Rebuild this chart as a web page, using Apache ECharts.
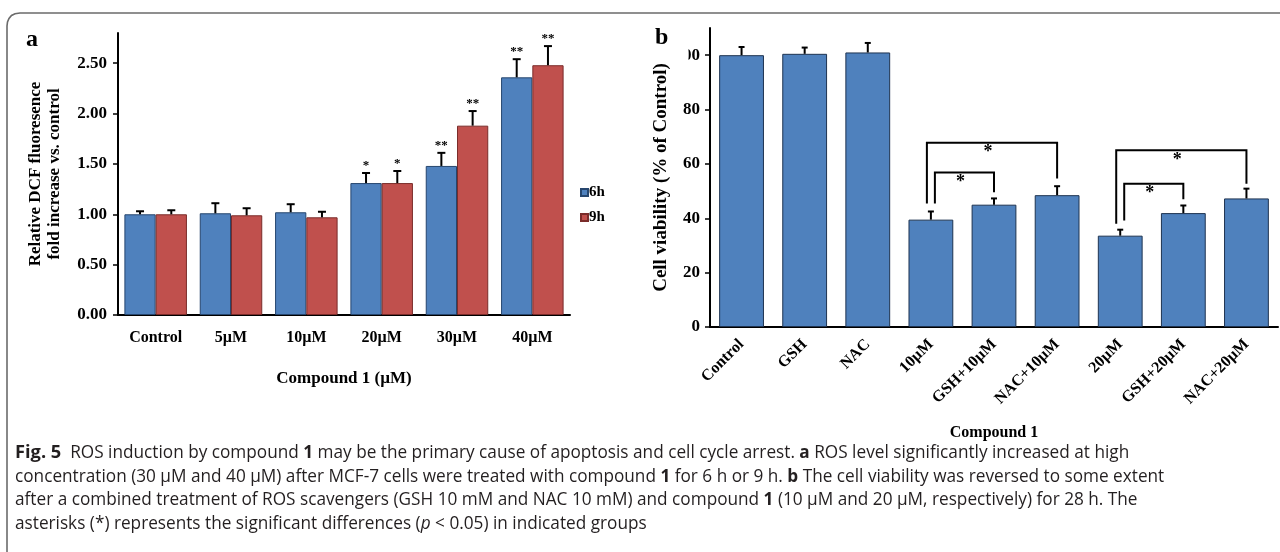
<!DOCTYPE html>
<html><head><meta charset="utf-8">
<script src="https://cdn.jsdelivr.net/npm/echarts@6/dist/echarts.min.js"></script>
<style>html,body{margin:0;padding:0;background:#fff}#c{width:1280px;height:552px}</style>
</head><body><div id="c"></div>
<script>
// ---------- Panel a data ----------
const catsA = ['Control', '5µM', '10µM', '20µM', '30µM', '40µM'];
const vals6h = [1.00, 1.01, 1.02, 1.31, 1.48, 2.36];
const err6h = [0.03, 0.10, 0.08, 0.10, 0.13, 0.18];
const vals9h = [1.00, 0.99, 0.97, 1.31, 1.88, 2.48];
const err9h = [0.04, 0.07, 0.055, 0.12, 0.145, 0.19];
const star6h = ['', '', '', '*', '**', '**'];
const star9h = ['', '', '', '*', '**', '**'];
const ticksA = [0, 0.5, 1.0, 1.5, 2.0, 2.5];
// ---------- Panel b data ----------
const catsB = ['Control', 'GSH', 'NAC', '10µM', 'GSH+10µM', 'NAC+10µM', '20µM', 'GSH+20µM', 'NAC+20µM'];
const valsB = [100, 100.5, 101, 39.5, 45, 48.5, 33.6, 41.9, 47.3];
const errB = [3, 2.3, 3.5, 3, 2.3, 3.3, 2.2, 2.8, 3.6];
const ticksB = [0, 20, 40, 60, 80, 100];
const bracketFrom = [3, 3, 6, 6];
const bracketTo = [5, 4, 8, 7];
const bracketTop = [67.8, 56.8, 65, 52.7];
const bracketLeftEnd = [45.4, 45.4, 38, 39.2];
const bracketRightEnd = [54.6, 49.6, 52.7, 47];
const bracketMark = ['*', '*', '*', '*'];
// ---------- Caption ----------
const captionLines = [
  '{f|Fig. 5}  ROS induction by compound {b|1} may be the primary cause of apoptosis and cell cycle arrest. {b|a} ROS level significantly increased at high',
  'concentration (30 μM and 40 μM) after MCF-7 cells were treated with compound {b|1} for 6 h or 9 h. {b|b} The cell viability was reversed to some extent',
  'after a combined treatment of ROS scavengers (GSH 10 mM and NAC 10 mM) and compound {b|1} (10 μM and 20 μM, respectively) for 28 h. The',
  'asterisks (*) represents the significant differences ({i|p} < 0.05) in indicated groups'
];

const serif = '"Liberation Serif","Times New Roman",serif';
const capFamily = '"Open Sans","Noto Sans",sans-serif';

// fit caption font size to the reference line width
const cv = document.createElement('canvas').getContext('2d');
cv.font = '100px "Open Sans"';
const plain2 = captionLines[1].replace(/\{[a-z]\|([^}]*)\}/g, '$1');
const capSize = Math.min(18, 100 * 1150 / cv.measureText(plain2).width);

function errRender(vals, errs, stars, shift, cap) {
  return function (params, api) {
    const i = params.dataIndex;
    const base = api.coord([i, vals[i]]);
    const top = api.coord([i, vals[i] + errs[i]]);
    const band = api.size([1, 0])[0];
    const x = base[0] + shift * band;
    const ch = [
      { type: 'line', shape: { x1: x, y1: base[1], x2: x, y2: top[1] }, style: { stroke: '#000', lineWidth: 2 } },
      { type: 'line', shape: { x1: x - cap, y1: top[1], x2: x + cap, y2: top[1] }, style: { stroke: '#000', lineWidth: 2 } }
    ];
    if (stars && stars[i]) {
      ch.push({ type: 'text', style: { text: stars[i], x: x, y: top[1] - 1, align: 'center', verticalAlign: 'bottom',
        font: 'bold 13px ' + serif, fill: '#000' } });
    }
    return { type: 'group', children: ch };
  };
}

function bracketRender(params, api) {
  const i = params.dataIndex;
  const f = bracketFrom[i], t = bracketTo[i];
  const outer = (t - f) > 1;
  const lx = api.coord([f, 0])[0] + (outer ? -4 : 4);
  const rx = api.coord([t, 0])[0];
  const ty = api.coord([f, bracketTop[i]])[1];
  const ly = api.coord([f, bracketLeftEnd[i]])[1];
  const ry = api.coord([t, bracketRightEnd[i]])[1];
  return { type: 'group', children: [
    { type: 'polyline', shape: { points: [[lx, ly], [lx, ty], [rx, ty], [rx, ry]] }, style: { stroke: '#000', lineWidth: 2, fill: null } },
    { type: 'text', style: { text: bracketMark[i], x: (lx + rx) / 2 - 4, y: ty + 1, align: 'center', verticalAlign: 'top',
      font: 'bold 18px ' + serif, fill: '#000' } }
  ] };
}

const shiftA = (1 - 0.17) / 4;
const chart = echarts.init(document.getElementById('c'), null, { renderer: 'canvas' });
const option = {
  animation: false,
  backgroundColor: '#fff',
  grid: [
    { left: 118, right: 710, top: 33, bottom: 237 },
    { left: 710, right: 2, top: 28, bottom: 225 }
  ],
  legend: {
    data: ['6h', '9h'], orient: 'vertical', left: 575, top: 180, itemWidth: 7, itemHeight: 7, itemGap: 10,
    icon: 'rect', textStyle: { fontFamily: serif, fontWeight: 'bold', fontSize: 15, color: '#000', padding: [0, 0, 0, -4] }
  },
  xAxis: [
    { type: 'category', gridIndex: 0, data: catsA, axisTick: { show: false },
      axisLine: { lineStyle: { color: '#000', width: 2 } },
      axisLabel: { fontFamily: serif, fontWeight: 'bold', fontSize: 16, color: '#000', margin: 15 },
      name: 'Compound 1 (µM)', nameLocation: 'middle', nameGap: 55,
      nameTextStyle: { fontFamily: serif, fontWeight: 'bold', fontSize: 17, color: '#000' } },
    { type: 'category', gridIndex: 1, data: catsB, axisTick: { show: false },
      axisLine: { lineStyle: { color: '#000', width: 2 } },
      axisLabel: { fontFamily: serif, fontWeight: 'bold', fontSize: 16, color: '#000', rotate: 45, interval: 0, margin: 15 },
      name: 'Compound 1', nameLocation: 'middle', nameGap: 98,
      nameTextStyle: { fontFamily: serif, fontWeight: 'bold', fontSize: 16, color: '#000' } }
  ],
  yAxis: [
    { type: 'value', gridIndex: 0, min: 0, max: 2.8, splitLine: { show: false },
      axisLine: { show: true, lineStyle: { color: '#000', width: 2 } },
      axisTick: { show: true, length: 5, customValues: ticksA, lineStyle: { color: '#000', width: 1.5 } },
      axisLabel: { customValues: ticksA, formatter: v => v.toFixed(2), fontFamily: serif, fontWeight: 'bold', fontSize: 17, color: '#000', margin: 11 },
      name: 'Relative DCF fluoresence\nfold increase vs. control', nameLocation: 'middle', nameGap: 54,
      nameTextStyle: { fontFamily: serif, fontWeight: 'bold', fontSize: 17, color: '#000', lineHeight: 19 } },
    { type: 'value', gridIndex: 1, min: 0, max: 110, splitLine: { show: false },
      axisLine: { show: true, lineStyle: { color: '#000', width: 2 } },
      axisTick: { show: true, length: 5, customValues: ticksB, lineStyle: { color: '#000', width: 1.5 } },
      axisLabel: { customValues: ticksB, fontFamily: serif, fontWeight: 'bold', fontSize: 17, color: '#000', margin: 10 },
      name: 'Cell viability (% of Control)', nameLocation: 'middle', nameGap: 38,
      nameTextStyle: { fontFamily: serif, fontWeight: 'bold', fontSize: 19, color: '#000' } }
  ],
  series: [
    { type: 'bar', name: '6h', xAxisIndex: 0, yAxisIndex: 0, data: vals6h, barGap: '0%', barCategoryGap: '17%',
      itemStyle: { color: '#4f81bd', borderColor: '#26466e', borderWidth: 1 } },
    { type: 'bar', name: '9h', xAxisIndex: 0, yAxisIndex: 0, data: vals9h, barGap: '0%', barCategoryGap: '17%',
      itemStyle: { color: '#c0504d', borderColor: '#7a2c2a', borderWidth: 1 } },
    { type: 'custom', xAxisIndex: 0, yAxisIndex: 0, data: catsA.map((c, i) => [i, vals6h[i] + err6h[i]]),
      renderItem: errRender(vals6h, err6h, star6h, -shiftA, 4), z: 5 },
    { type: 'custom', xAxisIndex: 0, yAxisIndex: 0, data: catsA.map((c, i) => [i, vals9h[i] + err9h[i]]),
      renderItem: errRender(vals9h, err9h, star9h, shiftA, 4), z: 5 },
    { type: 'bar', name: 'viability', xAxisIndex: 1, yAxisIndex: 1, data: valsB, barCategoryGap: '29%',
      itemStyle: { color: '#4f81bd', borderColor: '#1e3350', borderWidth: 1 } },
    { type: 'custom', xAxisIndex: 1, yAxisIndex: 1, data: catsB.map((c, i) => [i, valsB[i] + errB[i]]),
      renderItem: errRender(valsB, errB, null, 0, 3), z: 5 },
    { type: 'custom', xAxisIndex: 1, yAxisIndex: 1, data: bracketFrom.map((f, i) => [f, bracketTop[i]]),
      renderItem: bracketRender, z: 5 }
  ],
  graphic: [
    { type: 'polyline', shape: { points: [[7, 552], [7, 26], [7.5, 22], [9, 18.5], [11.5, 15.5], [15, 13.7], [20, 13], [1280, 13]] },
      style: { stroke: '#6b6b6b', lineWidth: 1.6, fill: null }, silent: true },
    { type: 'text', left: 26, top: 28, style: { text: 'a', font: 'bold 24px ' + serif, fill: '#000' } },
    { type: 'text', left: 655, top: 26, style: { text: 'b', font: 'bold 24px ' + serif, fill: '#000' } },
    { type: 'rect', shape: { x: 674, y: 44, width: 14.5, height: 22 }, style: { fill: '#fff' }, z: 100 }
  ].concat(captionLines.map((t, k) => ({
    type: 'text', x: 15, y: [453, 477, 500, 524][k], z: 100,
    style: {
      text: t, fill: '#231f20', verticalAlign: 'middle', fontFamily: capFamily, fontSize: capSize,
      rich: {
        f: { fontFamily: capFamily, fontWeight: 'bold', fontSize: capSize * 1.06, fill: '#231f20' },
        b: { fontFamily: capFamily, fontWeight: 'bold', fontSize: capSize, fill: '#231f20' },
        i: { fontFamily: capFamily, fontStyle: 'italic', fontSize: capSize, fill: '#231f20' }
      }
    }
  })))
};
chart.setOption(option);
</script>
</body></html>
